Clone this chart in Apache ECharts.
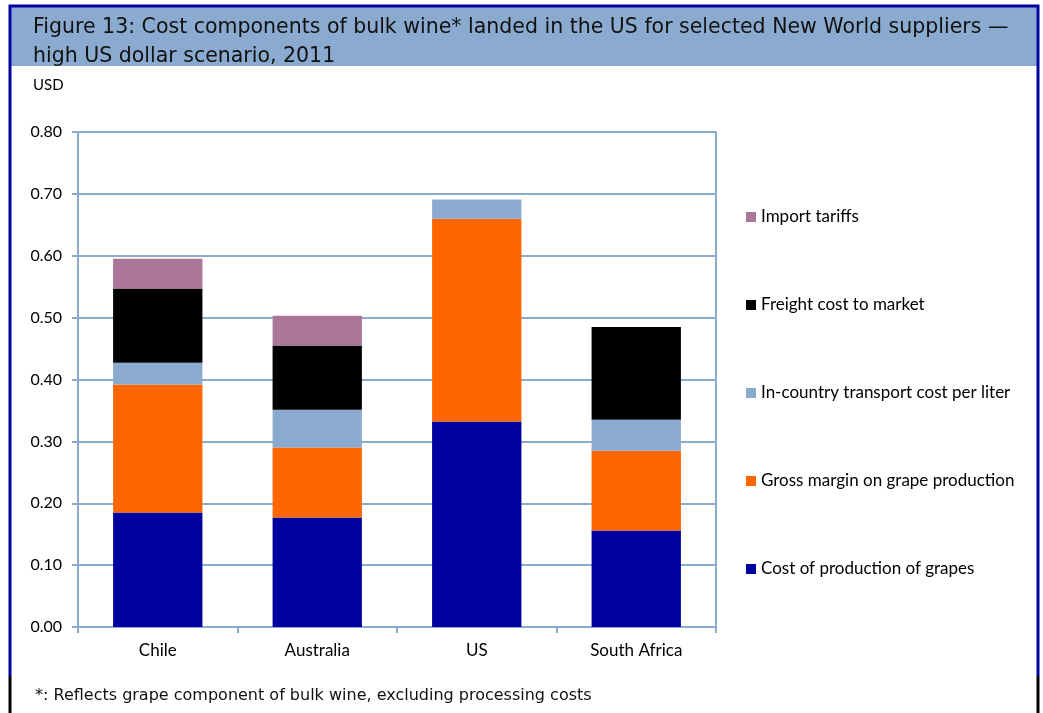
<!DOCTYPE html>
<html>
<head>
<meta charset="utf-8">
<script src="https://cdn.jsdelivr.net/npm/echarts@6/dist/echarts.min.js"></script>
<style>
  html, body { margin: 0; padding: 0; background: #fff; }
  #chart-container { width: 1043px; height: 713px; }
</style>
</head>
<body>
<div id="chart-container"></div>
<script>
// data
var countries = ["Chile", "Australia", "US", "South Africa"];
var productionCost = [0.185, 0.177, 0.332, 0.156];
var grossMargin = [0.207, 0.113, 0.328, 0.129];
var transportCost = [0.035, 0.061, 0.031, 0.050];
var freightCost = [0.120, 0.104, 0, 0.150];
var importTariffs = [0.048, 0.048, 0, 0];
var yTicks = [0, 0.1, 0.2, 0.3, 0.4, 0.5, 0.6, 0.7, 0.8];

var chartDom = document.getElementById("chart-container");
var myChart = echarts.init(chartDom);

var gridColor = "#8aabcf";
var labelFont = "Lato, 'Open Sans', sans-serif";
var titleFont = "'DejaVu Sans', Verdana, sans-serif";

function stackSeries(name, values, color) {
  return {
    name: name,
    type: "bar",
    stack: "cost",
    barCategoryGap: "44%",
    itemStyle: { color: color },
    data: values,
  };
}

var option = {
  animation: false,
  backgroundColor: "#fff",
  graphic: [
    // title band
    { type: "rect", shape: { x: 10, y: 6, width: 1028, height: 60 }, style: { fill: "#8aabcf" }, z: -1 },
    // frame
    { type: "polyline", shape: { points: [[10, 676], [10, 6], [1038, 6], [1038, 676]] }, style: { stroke: "#0000a0", lineWidth: 3, fill: null } },
    { type: "line", shape: { x1: 10, y1: 676, x2: 10, y2: 713 }, style: { stroke: "#000", lineWidth: 3 } },
    { type: "line", shape: { x1: 1038, y1: 676, x2: 1038, y2: 713 }, style: { stroke: "#000", lineWidth: 3 } },
    {
      type: "text", left: 33, top: 13,
      style: {
        text: "Figure 13: Cost components of bulk wine* landed in the US for selected New World suppliers \u2014\nhigh US dollar scenario, 2011",
        font: "20.5px " + titleFont, fill: "#111", lineHeight: 29,
      },
    },
    { type: "text", left: 33, top: 78, style: { text: "USD", font: "15px " + labelFont, fill: "#000" } },
    {
      type: "text", left: 35, top: 688,
      style: { text: "*: Reflects grape component of bulk wine, excluding processing costs", font: "16px " + titleFont, fill: "#111" },
    },
  ],
  legend: {
    orient: "vertical",
    left: 746,
    top: 207,
    padding: 0,
    itemWidth: 10,
    itemHeight: 10,
    itemGap: 68,
    icon: "rect",
    data: ["Import tariffs", "Freight cost to market", "In-country transport cost per liter", "Gross margin on grape production", "Cost of production of grapes"],
    textStyle: { fontFamily: labelFont, fontSize: 17, color: "#000", lineHeight: 20, padding: [0, 0, 0, 0] },
  },
  grid: { left: 78, right: 327, top: 132, bottom: 86 },
  xAxis: {
    type: "category",
    data: countries,
    axisLine: { lineStyle: { color: gridColor, width: 2 } },
    axisTick: { show: true, length: 6, lineStyle: { color: gridColor, width: 2 } },
    axisLabel: { color: "#000", fontFamily: labelFont, fontSize: 17, margin: 15 },
  },
  yAxis: [
    {
      type: "value",
      min: yTicks[0],
      max: yTicks[yTicks.length - 1],
      interval: 0.1,
      axisLine: { show: true, lineStyle: { color: gridColor, width: 2 } },
      axisTick: { show: true, length: 6, lineStyle: { color: gridColor, width: 2 } },
      splitLine: { lineStyle: { color: gridColor, width: 2 } },
      axisLabel: {
        color: "#000", fontFamily: labelFont, fontSize: 16, margin: 16,
        formatter: function (v) { return v.toFixed(2); },
      },
    },
    {
      // right frame of the plot area
      type: "value",
      position: "right",
      min: yTicks[0],
      max: yTicks[yTicks.length - 1],
      interval: 0.1,
      axisLine: { show: true, lineStyle: { color: gridColor, width: 2 } },
      axisTick: { show: false },
      axisLabel: { show: false },
      splitLine: { show: false },
    },
  ],
  series: [
    stackSeries("Cost of production of grapes", productionCost, "#0000a0"),
    stackSeries("Gross margin on grape production", grossMargin, "#ff6600"),
    stackSeries("In-country transport cost per liter", transportCost, "#8aabcf"),
    stackSeries("Freight cost to market", freightCost, "#000000"),
    stackSeries("Import tariffs", importTariffs, "#aa7798"),
  ],
};

myChart.setOption(option);
</script>
</body>
</html>
